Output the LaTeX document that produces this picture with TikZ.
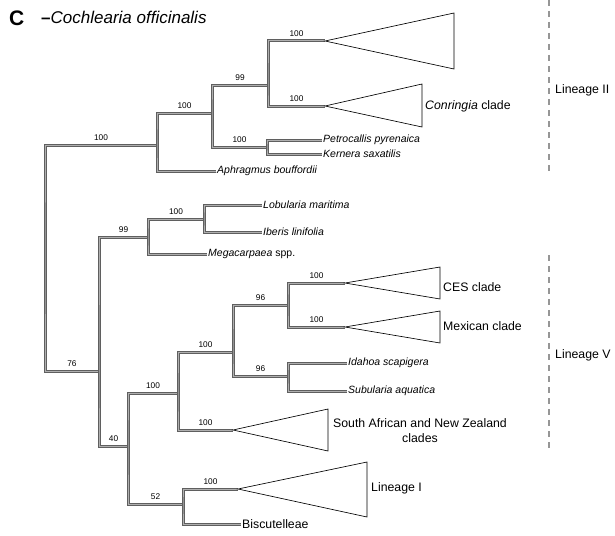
\documentclass[tikz,border=0pt]{standalone}
\usepackage{fontspec}
\setmainfont{Liberation Sans}
\definecolor{brdark}{RGB}{95,95,95}
\definecolor{brlight}{RGB}{175,175,175}
\definecolor{dashgray}{RGB}{150,150,150}
\begin{document}
\begin{tikzpicture}[x=1pt,y=-1pt,
  br/.style={draw=brdark, line width=1pt, double=brlight, double distance=1pt},
  clade/.style={draw=black, line width=0.65pt, line join=miter},
  sp/.style={anchor=west, inner sep=1pt, font=\fontsize{10.5}{12}\selectfont\itshape},
  cl/.style={anchor=west, inner sep=1pt, font=\fontsize{12.3}{15}\selectfont},
  bs/.style={above, inner sep=1pt, yshift=2.5pt, font=\fontsize{8.3}{9}\selectfont},
  lin/.style={draw=dashgray, line width=1.6pt, dash pattern=on 6pt off 5pt}]
\useasboundingbox (0,0) rectangle (615,535);

% panel letter and outgroup
\node[anchor=base west, inner sep=0, font=\fontsize{21}{21}\selectfont\bfseries] (panel) at (9,25.5) {C};
\node[anchor=base west, inner sep=0, font=\fontsize{17}{17}\selectfont] (outg) at (41,24) {\textbf{–}\textit{Cochlearia officinalis}};

% internal nodes (junction points)
\coordinate (R) at (45,258);
\coordinate (A) at (157,145);
\coordinate (B) at (212,113);
\coordinate (C) at (268,85);
\coordinate (D) at (267,147);
\coordinate (E) at (99,371);
\coordinate (F) at (148,237);
\coordinate (H) at (204,219);
\coordinate (G) at (128,446);
\coordinate (I) at (178,393);
\coordinate (K) at (233,352);
\coordinate (L) at (288,305);
\coordinate (M) at (288,376);
\coordinate (J) at (183,504);

% collapsed clade apices
\coordinate (t1) at (325,41);
\coordinate (t2) at (325,106);
\coordinate (tCES) at (345,283);
\coordinate (tMex) at (345,327);
\coordinate (tSA) at (233,430);
\coordinate (tL1) at (238,489);

% leaf labels
\node[sp] (aph) at (216,171) {Aphragmus bouffordii};
\node[sp] (petro) at (322,140) {Petrocallis pyrenaica};
\node[sp] (kern) at (322,154) {Kernera saxatilis};
\node[sp] (lob) at (262,205) {Lobularia maritima};
\node[sp] (ibe) at (262,232) {Iberis linifolia};
\node[sp] (mega) at (207,254) {Megacarpaea\/ \upshape spp.};
\node[sp] (ida) at (347,363) {Idahoa scapigera};
\node[sp] (sub) at (347,391) {Subularia aquatica};
\node[cl] (bis) at (241,524) {Biscutelleae};

% branches
\draw[br] (A) -| node[bs, pos=0.25] {100} (R) |- node[bs, pos=0.75] {76} (E);
\draw[br] (B) -| node[bs, pos=0.25] {100} (A) |- (aph);
\draw[br] (C) -| node[bs, pos=0.25] {99} (B) |- node[bs, pos=0.75] {100} (D);
\draw[br] (t1) -| node[bs, pos=0.25] {100} (C) |- node[bs, pos=0.75] {100} (t2);
\draw[br] (petro) -| (D) |- (kern);
\draw[br] (F) -| node[bs, pos=0.25] {99} (E) |- node[bs, pos=0.75] {40} (G);
\draw[br] (H) -| node[bs, pos=0.25] {100} (F) |- (mega);
\draw[br] (lob) -| (H) |- (ibe);
\draw[br] (I) -| node[bs, pos=0.25] {100} (G) |- node[bs, pos=0.75] {52} (J);
\draw[br] (K) -| node[bs, pos=0.25] {100} (I) |- node[bs, pos=0.75] {100} (tSA);
\draw[br] (L) -| node[bs, pos=0.25] {96} (K) |- node[bs, pos=0.75] {96} (M);
\draw[br] (tCES) -| node[bs, pos=0.25] {100} (L) |- node[bs, pos=0.75] {100} (tMex);
\draw[br] (ida) -| (M) |- (sub);
\draw[br] (tL1) -| node[bs, pos=0.25] {100} (J) |- (bis);

% collapsed clades
\draw[clade] (t1) -- (454,13) -- (454,69) -- cycle;
\draw[clade] (t2) -- (422,84) -- (422,127) -- cycle;
\draw[clade] (tCES) -- (440,267) -- (440,299) -- cycle;
\draw[clade] (tMex) -- (440,311) -- (440,343) -- cycle;
\draw[clade] (tSA) -- (328,409) -- (328,451) -- cycle;
\draw[clade] (tL1) -- (367,462) -- (367,517) -- cycle;

% clade names
\node[cl] (conr) at (424,106) {\textit{Conringia} clade};
\node[cl] (ces) at (442,287) {CES clade};
\node[cl] (mex) at (442,326) {Mexican clade};
\node[cl, anchor=center, align=center] (sa) at (420,430.5) {South African and New Zealand\\clades};
\node[cl] (lin1) at (370,488) {Lineage I};

% lineage brackets
\coordinate (d1a) at (549,0);
\coordinate (d1b) at (549,173);
\coordinate (d2a) at (549,255);
\coordinate (d2b) at (549,448);
\draw[lin] (d1a) -- (d1b);
\draw[lin] (d2a) -- (d2b);
\node[cl] (lin2) at (554,90) {Lineage II};
\node[cl] (lin5) at (554,355) {Lineage V};
\end{tikzpicture}
\end{document}
